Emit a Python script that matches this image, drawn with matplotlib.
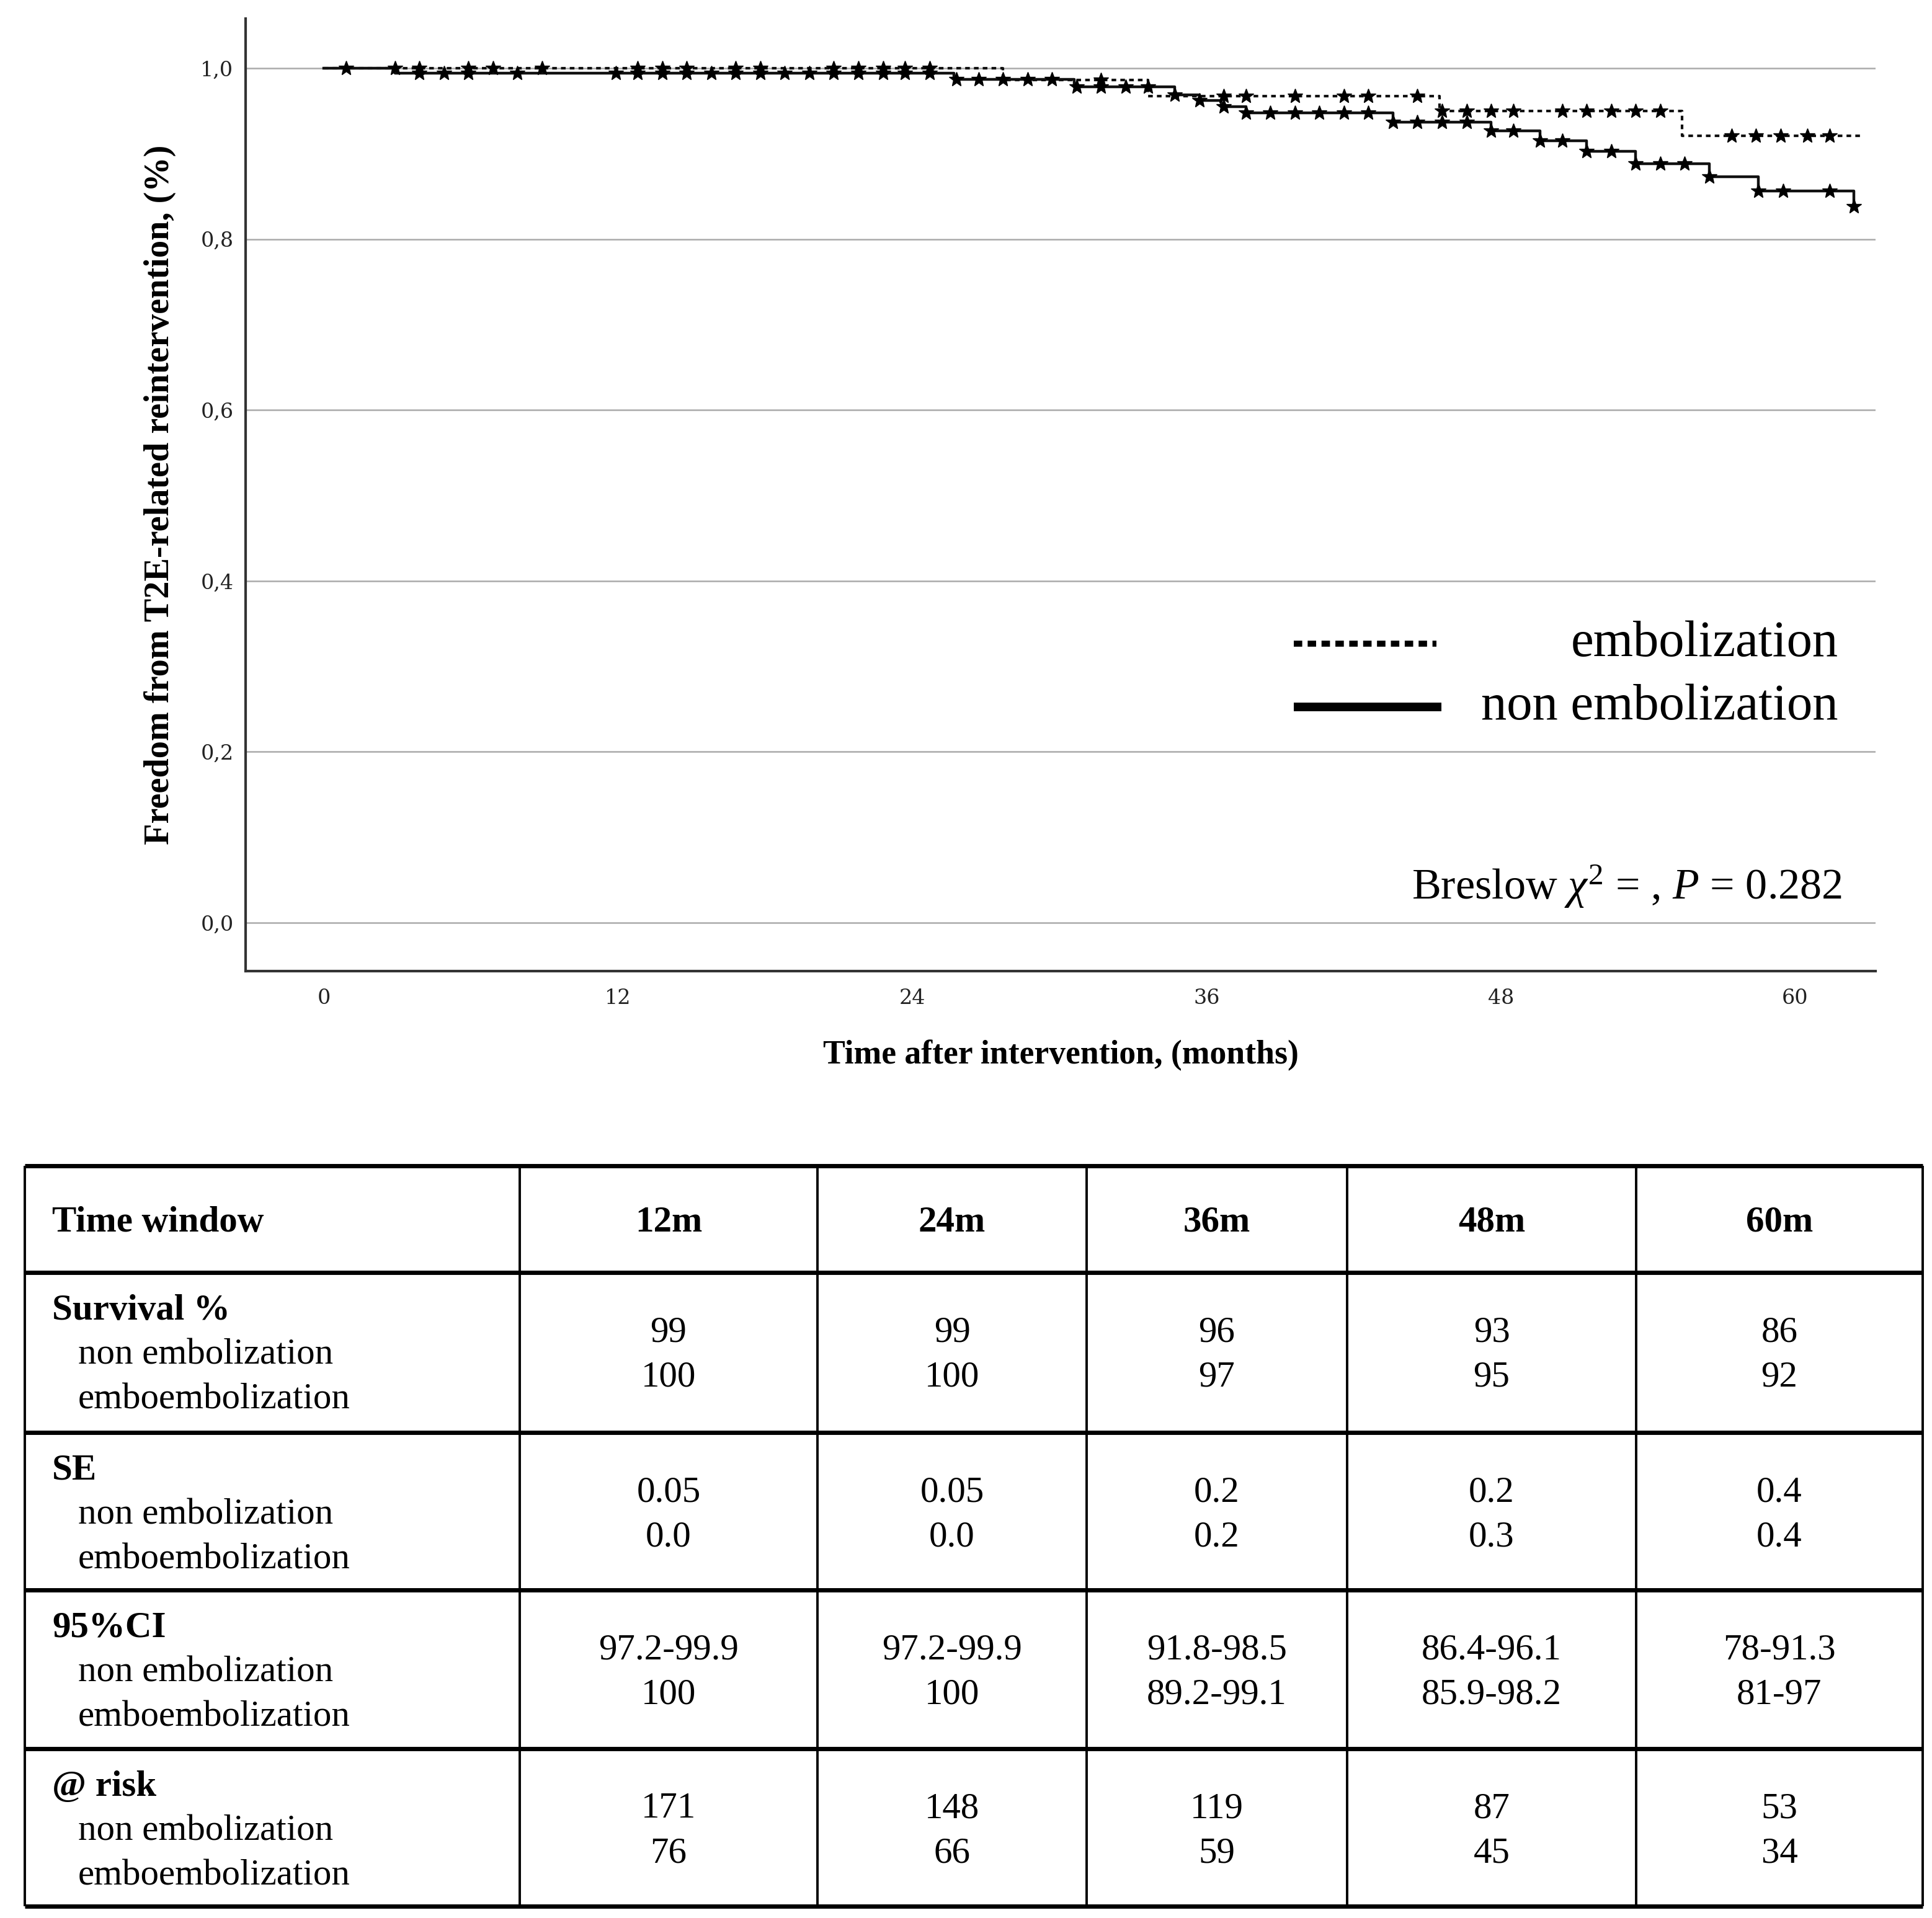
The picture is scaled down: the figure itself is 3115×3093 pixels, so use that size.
import numpy as np
import matplotlib
matplotlib.use("Agg")
import matplotlib.pyplot as plt

plt.rcParams['font.family'] = ['Liberation Serif', 'DejaVu Serif']
plt.rcParams['mathtext.fontset'] = 'custom'
plt.rcParams['mathtext.rm'] = 'Liberation Serif'
plt.rcParams['mathtext.it'] = 'Liberation Serif:italic'

# Kaplan-Meier steps (months, survival after the drop)
non_emb_times = [2.9, 25.7, 30.6, 34.7, 35.7, 36.6, 37.6, 43.6, 47.6, 49.6, 51.5, 53.5, 56.5, 58.5, 62.4]
non_emb_surv = [0.994, 0.987, 0.978, 0.969, 0.962, 0.955, 0.948, 0.937, 0.927, 0.915, 0.903, 0.888, 0.873, 0.856, 0.838]
non_emb_end = 62.5
emb_times = [27.7, 33.6, 45.5, 55.4]
emb_surv = [0.986, 0.967, 0.950, 0.921]
emb_end = 62.8

# censored cases
non_emb_cens = [0.9, 3.9, 4.9, 5.9, 7.9, 11.9, 12.8, 13.8, 14.8, 15.8, 16.8, 17.8, 18.8, 19.8,
                20.8, 21.8, 22.8, 23.7, 24.7, 25.8, 26.7, 27.7, 28.7, 29.7, 30.7, 31.7, 32.7,
                33.6, 34.7, 35.7, 36.7, 37.6, 38.6, 39.6, 40.6, 41.6, 42.6, 43.6, 44.6, 45.6,
                46.6, 47.6, 48.5, 49.6, 50.5, 51.5, 52.5, 53.5, 54.5, 55.5, 56.5, 58.5, 59.5,
                61.4, 62.4]
emb_cens = [2.9, 3.9, 5.9, 6.9, 8.9, 12.8, 13.8, 14.8, 16.8, 17.8, 20.8, 21.8, 22.8, 23.7,
            24.7, 31.7, 36.7, 37.6, 39.6, 41.6, 42.6, 44.6, 45.6, 46.6, 47.6, 48.5, 50.5,
            51.5, 52.5, 53.5, 54.5, 57.4, 58.4, 59.4, 60.5, 61.4]

x_ticks = [0, 12, 24, 36, 48, 60]
y_ticks = [0.0, 0.2, 0.4, 0.6, 0.8, 1.0]
y_tick_labels = ['0,0', '0,2', '0,4', '0,6', '0,8', '1,0']

# table contents
time_windows = ['12m', '24m', '36m', '48m', '60m']
row_titles = ['Survival %', 'SE', '95%CI', '@ risk']
group_labels = ['non embolization', 'emboembolization']
surv_non = ['99', '99', '96', '93', '86']
surv_emb = ['100', '100', '97', '95', '92']
se_non = ['0.05', '0.05', '0.2', '0.2', '0.4']
se_emb = ['0.0', '0.0', '0.2', '0.3', '0.4']
ci_non = ['97.2-99.9', '97.2-99.9', '91.8-98.5', '86.4-96.1', '78-91.3']
ci_emb = ['100', '100', '89.2-99.1', '85.9-98.2', '81-97']
risk_non = [171, 148, 119, 87, 53]
risk_emb = [76, 66, 59, 45, 34]


def step_arrays(times, surv, end):
    t = np.array([0.0] + list(times) + [end])
    s = np.array([1.0] + list(surv) + [surv[-1]])
    return t, s


def surv_at(times, surv, t):
    idx = np.searchsorted(times, t, side='right')
    return np.array([1.0] + list(surv))[idx]


W, H = 3115, 3093
fig = plt.figure(figsize=(W / 100, H / 100), dpi=100)

# ---- table (drawn in a pixel-like overlay) ----
tax = fig.add_axes([0, 0, 1, 1])
tax.set_xlim(0, W)
tax.set_ylim(H, 0)
tax.axis('off')

col_edges = [40, 838, 1318, 1752, 2172, 2638, 3100]
row_edges = [1880, 2052, 2310, 2564, 2820, 3074]
tfs = 42.5

tax.hlines(row_edges, col_edges[0], col_edges[-1], color='black', lw=5)
tax.vlines(col_edges, row_edges[0], row_edges[-1], color='black', lw=2.8)

head_y = (row_edges[0] + row_edges[1]) / 2 + 6
tax.text(84, head_y, 'Time window', fontsize=tfs, fontweight='bold', va='center', ha='left')
for i, tw in enumerate(time_windows):
    cx = (col_edges[i + 1] + col_edges[i + 2]) / 2
    tax.text(cx, head_y, tw, fontsize=tfs, fontweight='bold', va='center', ha='center')

row_values = [(surv_non, surv_emb), (se_non, se_emb), (ci_non, ci_emb), (risk_non, risk_emb)]
for r, title in enumerate(row_titles):
    top = row_edges[r + 1]
    tax.text(84, top + 62, title, fontsize=tfs, fontweight='bold', va='center', ha='left')
    for g, lab in enumerate(group_labels):
        tax.text(126, top + 133 + 72 * g, lab, fontsize=tfs, va='center', ha='left')
    vals_a, vals_b = row_values[r]
    for i in range(len(time_windows)):
        cx = (col_edges[i + 1] + col_edges[i + 2]) / 2
        tax.text(cx, top + 97, str(vals_a[i]), fontsize=tfs, va='center', ha='center')
        tax.text(cx, top + 169, str(vals_b[i]), fontsize=tfs, va='center', ha='center')

# ---- KM plot ----
ax = fig.add_axes([396 / W, 1 - 1566 / H, 2628 / W, 1536 / H])

t_ne, s_ne = step_arrays(non_emb_times, non_emb_surv, non_emb_end)
t_e, s_e = step_arrays(emb_times, emb_surv, emb_end)

ax.step(t_ne, s_ne, where='post', color='#111111', lw=3.2, zorder=3)
ax.step(t_e, s_e, where='post', color='#111111', lw=3.0, linestyle=(0, (1.8, 1.6)), zorder=3)

ax.plot(non_emb_cens, surv_at(non_emb_times, non_emb_surv, non_emb_cens), linestyle='none',
        marker='*', markersize=18, color='black', zorder=4)
ax.plot(emb_cens, surv_at(emb_times, emb_surv, emb_cens), linestyle='none',
        marker='*', markersize=18, color='black', zorder=4)

ax.set_xlim(-3.19, 63.28)
ax.set_ylim(-0.0566, 1.058)
ax.set_xticks(x_ticks)
ax.set_yticks(y_ticks)
ax.set_yticklabels(y_tick_labels)
ax.tick_params(length=0, labelsize=24, colors='#222222')
ax.tick_params(axis='x', pad=20)
ax.tick_params(axis='y', pad=14)
for lab in ax.get_xticklabels() + ax.get_yticklabels():
    lab.set_family('DejaVu Serif')

ax.yaxis.grid(True, color='#aaaaaa', lw=1.8)
ax.set_axisbelow(True)
for side in ['top', 'right']:
    ax.spines[side].set_visible(False)
for side in ['left', 'bottom']:
    ax.spines[side].set_color('#333333')
    ax.spines[side].set_linewidth(3)

ax.set_xlabel('Time after intervention, (months)', fontsize=38.6, fontweight='bold', va='center')
ax.xaxis.set_label_coords(0.5, (1566 - 1702) / 1536)
ax.set_ylabel('Freedom from T2E-related reintervention, (%)', fontsize=40.5, fontweight='bold',
              va='center')
ax.yaxis.set_label_coords((258 - 396) / 2628, 0.5)

# legend drawn by hand, labels right aligned
ax.plot([0.643, 0.7306], [0.3438, 0.3438], transform=ax.transAxes, color='black', lw=7,
        linestyle=(0, (1.4, 0.9)), solid_capstyle='butt', dash_capstyle='butt')
ax.plot([0.643, 0.7336], [0.2773, 0.2773], transform=ax.transAxes, color='black', lw=10,
        solid_capstyle='butt')
ax.text(0.977, 0.3438, 'embolization', transform=ax.transAxes, fontsize=59.5,
        ha='right', va='center')
ax.text(0.977, 0.2773, 'non embolization', transform=ax.transAxes, fontsize=59.5,
        ha='right', va='center')

ax.text(0.9795, 0.0885, r'Breslow $\chi^2$ = , $P$ = 0.282', transform=ax.transAxes,
        fontsize=50.5, ha='right', va='center')

fig.savefig('out.png', dpi=100, facecolor='white')
